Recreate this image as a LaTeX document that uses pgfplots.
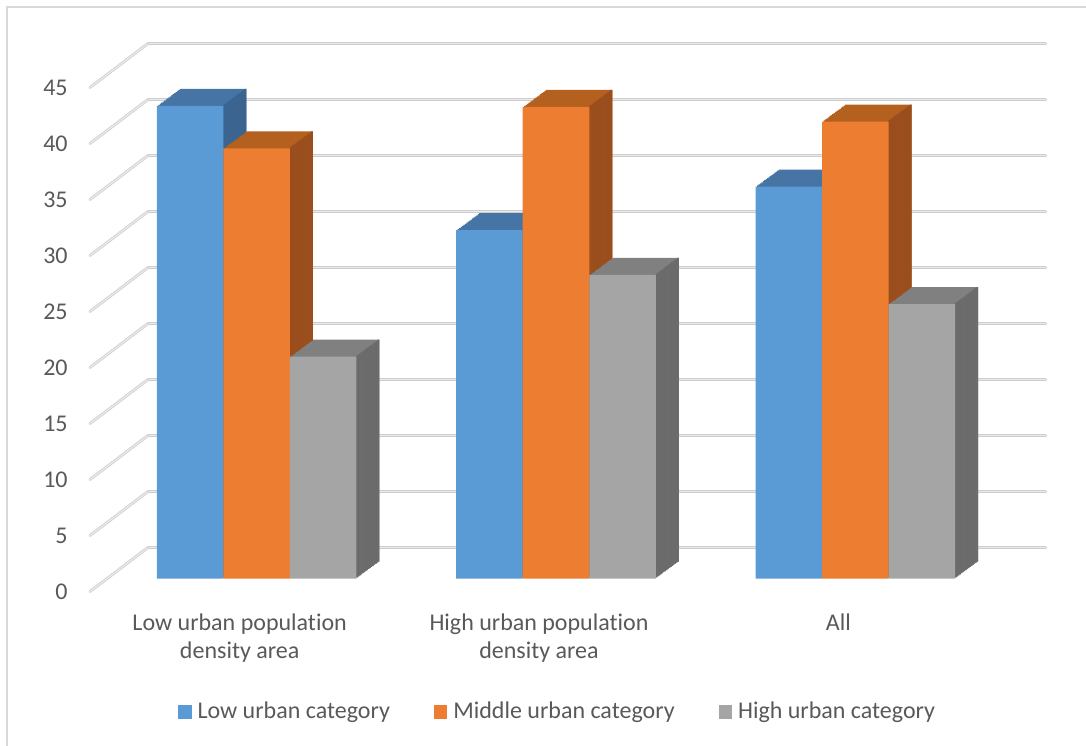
\documentclass[border=0pt]{standalone}
\usepackage{pgfplots}
\usepackage{pgfplotstable}
\pgfplotsset{compat=1.18}
\usepackage{fontspec}
\setmainfont{Carlito}[Ligatures=NoCommon]

\definecolor{txt}{HTML}{595959}
\definecolor{frame}{HTML}{D9D9D9}
\definecolor{gridA}{HTML}{CDCDCD}
\definecolor{gridB}{HTML}{EBEBEB}
\definecolor{blueF}{HTML}{5B9BD5}
\definecolor{blueT}{HTML}{4674A5}
\definecolor{blueS}{HTML}{3B6590}
\definecolor{oranF}{HTML}{ED7D31}
\definecolor{oranT}{HTML}{B4601F}
\definecolor{oranS}{HTML}{9A4E1D}
\definecolor{grayF}{HTML}{A5A5A5}
\definecolor{grayT}{HTML}{808080}
\definecolor{grayS}{HTML}{6B6B6B}

\newcommand\chartfont{\fontsize{12}{12.5}\selectfont}
\newcommand\catfont{\fontsize{12}{14}\selectfont}

\pgfplotstableread{
x  low   mid   high
0  42.2  38.4  19.8
1  31.1  42.1  27.1
2  35.0  40.8  24.5
}\data

\tikzset{gridline/.style={draw=gridA, line width=0.4pt, double=gridB, double distance=0.6pt, line cap=round}}

\begin{document}
\begin{tikzpicture}
\path[use as bounding box] (-74pt,-98.75pt) rectangle (469pt,273.75pt);
\draw[frame, line width=0.75pt] (-70.5pt,-110pt) -- (-70.5pt,270.25pt) -- (480pt,270.25pt);
\begin{axis}[
  at={(0,0)}, anchor=south west,
  scale only axis, width=449pt, height=252pt,
  xmin=-0.5, xmax=2.5, ymin=0, ymax=45,
  clip=false,
  axis line style={draw=none},
  major tick length=0pt,
  ytick={0,5,...,45},
  xtick={0,1,2},
  xticklabels={{Low urban population\\density area},{High urban population\\density area},All},
  ymajorgrids,
  major grid style={gridline},
  /pgf/number format/assume math mode=true,
  ticklabel style={font=\chartfont, text=txt},
  yticklabel style={anchor=east, inner sep=0pt, xshift=-40pt, yshift=-22pt},
  xticklabel style={font=\catfont, anchor=north, align=center, inner sep=0pt, xshift=-29pt, yshift=-32.75pt},
  legend columns=3,
  legend image code/.code={\fill[#1] (0pt,-3.35pt) rectangle (6.7pt,3.35pt);},
  legend style={at={(axis description cs:0.455,-0.3264)}, anchor=center, draw=none, fill=none,
    font=\chartfont, text=txt, inner sep=0pt,
    nodes={inner sep=0pt},
    /tikz/every odd column/.append style={column sep=3pt},
    /tikz/every even column/.append style={column sep=22pt}},
]
\pgfplotsinvokeforeach{0,5,...,45}{
  \draw[gridline] (axis cs:-0.5,#1) -- ++(-29pt,-22pt);
}
% ---- Low urban category (blue)
\pgfplotsinvokeforeach{16,15,...,1}{
  \addplot[ybar, bar width=0.2222, bar shift=-0.2222, fill=blueT, draw=none, forget plot,
    xshift={-20.5pt+0.71875pt*#1}, yshift={-15.5pt+0.53125pt*#1}] table[x=x,y=low]{\data};
}
\pgfplotsinvokeforeach{16,15,...,1}{
  \addplot[ybar, bar width=0.006, bar shift=-0.1141, fill=blueS, draw=none, forget plot,
    xshift={-20.5pt+0.71875pt*#1}, yshift={-15.5pt+0.53125pt*#1}] table[x=x,y=low]{\data};
}
\addplot[ybar, bar width=0.2222, bar shift=-0.2222, fill=blueF, draw=none, forget plot,
    xshift=-20.5pt, yshift=-15.5pt] table[x=x,y=low]{\data};
% ---- Middle urban category (orange)
\pgfplotsinvokeforeach{16,15,...,1}{
  \addplot[ybar, bar width=0.2222, bar shift=0, fill=oranT, draw=none, forget plot,
    xshift={-20.5pt+0.71875pt*#1}, yshift={-15.5pt+0.53125pt*#1}] table[x=x,y=mid]{\data};
}
\pgfplotsinvokeforeach{16,15,...,1}{
  \addplot[ybar, bar width=0.006, bar shift=0.1081, fill=oranS, draw=none, forget plot,
    xshift={-20.5pt+0.71875pt*#1}, yshift={-15.5pt+0.53125pt*#1}] table[x=x,y=mid]{\data};
}
\addplot[ybar, bar width=0.2222, bar shift=0, fill=oranF, draw=none, forget plot,
    xshift=-20.5pt, yshift=-15.5pt] table[x=x,y=mid]{\data};
% ---- High urban category (gray)
\pgfplotsinvokeforeach{16,15,...,1}{
  \addplot[ybar, bar width=0.2222, bar shift=0.2222, fill=grayT, draw=none, forget plot,
    xshift={-20.5pt+0.71875pt*#1}, yshift={-15.5pt+0.53125pt*#1}] table[x=x,y=high]{\data};
}
\pgfplotsinvokeforeach{16,15,...,1}{
  \addplot[ybar, bar width=0.006, bar shift=0.3303, fill=grayS, draw=none, forget plot,
    xshift={-20.5pt+0.71875pt*#1}, yshift={-15.5pt+0.53125pt*#1}] table[x=x,y=high]{\data};
}
\addplot[ybar, bar width=0.2222, bar shift=0.2222, fill=grayF, draw=none, forget plot,
    xshift=-20.5pt, yshift=-15.5pt] table[x=x,y=high]{\data};
% ---- legend
\addlegendimage{fill=blueF, draw=none}
\addlegendentry{Low urban category}
\addlegendimage{fill=oranF, draw=none}
\addlegendentry{Middle urban category}
\addlegendimage{fill=grayF, draw=none}
\addlegendentry{High urban category}
\end{axis}
\end{tikzpicture}
\end{document}
